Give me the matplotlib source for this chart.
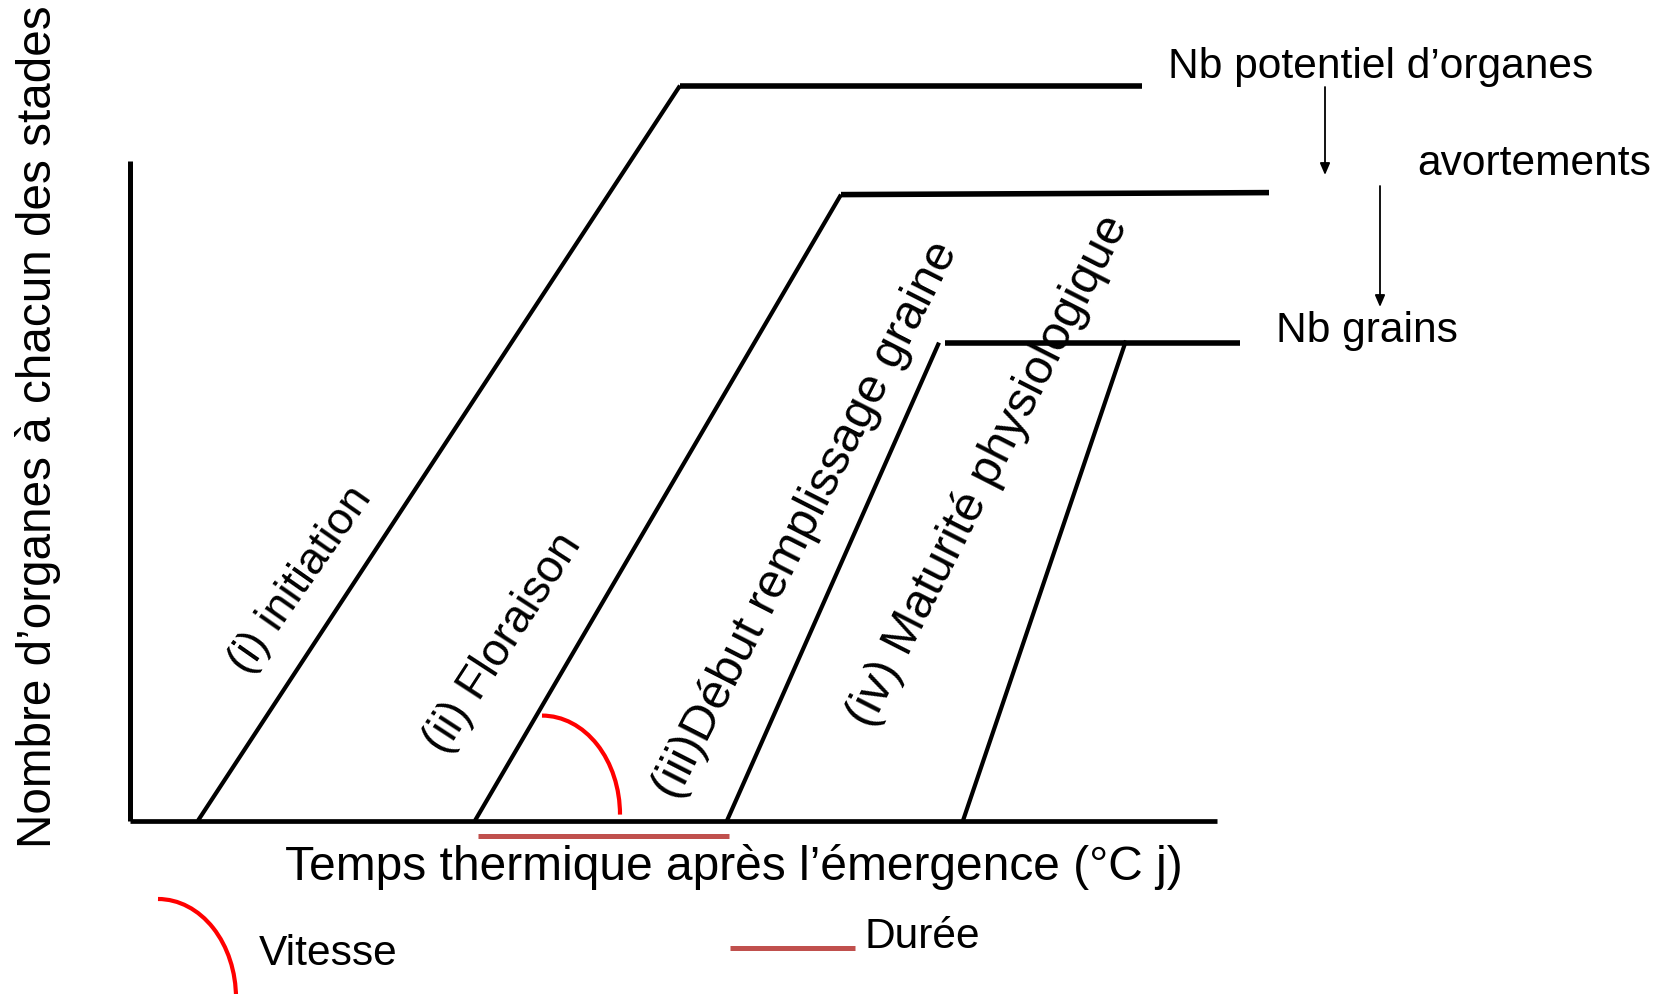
import matplotlib
matplotlib.use("Agg")
import matplotlib.pyplot as plt
from matplotlib.patches import Arc

plt.rcParams['font.family'] = ['Liberation Sans', 'DejaVu Sans']

# ---- data (thermal time on x, number of organs on y; arbitrary units) ----
stage_labels = ["(i) initiation", "(ii) Floraison",
                "(iii)Début remplissage graine", "(iv) Maturité physiologique"]
stage_base_tt = [68, 345, 597, 833]        # thermal time where each stage line starts
stage_top_tt = [550, 711, 809, 996]        # thermal time where each stage reaches its plateau
stage_top_n = [735, 626, 478, 480]         # number of organs at plateau
plateau_end_tt = [1012, 1139, 1110]        # end of plateaus (i), (ii), (iii)
plateau_end_n = [735, 628, 478]
plateau_start_tt = [550, 711, 815]

label_x = [171, 373, 676, 858]
label_y = [240, 177, 301, 350]
label_angle = [55, 57, 63, 63]
label_size = [32.5, 33, 35, 35]

axis_x_max = 1087
axis_y_max = 660

duree_tt = [348, 599]          # duration between (ii) and (iii)
vitesse_center = (412, 6)

fig = plt.figure(figsize=(16.71, 9.94), dpi=100)
ax = fig.add_axes([0, 0, 1, 1])
ax.set_xlim(-130, 1541)
ax.set_ylim(-173.4, 820.6)
ax.axis('off')

# axes of the diagram
ax.plot([0, 0], [0, axis_y_max], color='black', lw=3.6, solid_capstyle='butt')
ax.plot([0, axis_x_max], [0, 0], color='black', lw=3.4, solid_capstyle='butt')

# stage lines
for i in range(4):
    ax.plot([stage_base_tt[i], stage_top_tt[i]], [0, stage_top_n[i]],
            color='black', lw=3.0, solid_capstyle='butt')
for i in range(3):
    ax.plot([plateau_start_tt[i], plateau_end_tt[i]],
            [stage_top_n[i], plateau_end_n[i]],
            color='black', lw=4.0, solid_capstyle='butt')

# rotated stage labels
for i in range(4):
    ax.text(label_x[i], label_y[i], stage_labels[i], rotation=label_angle[i],
            rotation_mode='anchor', ha='center', va='center',
            fontsize=label_size[i], color='black')

# right side annotations
ax.text(1038, 742.6, "Nb potentiel d\u2019organes", fontsize=30.6, ha='left', va='baseline')
ax.text(1287, 645.6, "avortements", fontsize=30.6, ha='left', va='baseline')
ax.text(1146, 478.6, "Nb grains", fontsize=30.6, ha='left', va='baseline')
ax.annotate("", xy=(1195, 645.6), xytext=(1195, 733.6),
            arrowprops=dict(arrowstyle='-|>,head_length=0.7,head_width=0.3',
                            color='black', lw=1.3, shrinkA=0, shrinkB=0))
ax.annotate("", xy=(1250, 513.6), xytext=(1250, 634.6),
            arrowprops=dict(arrowstyle='-|>,head_length=0.7,head_width=0.3',
                            color='black', lw=1.3, shrinkA=0, shrinkB=0))

# axis labels
ax.text(604, -59.4, "Temps thermique après l\u2019émergence (°C j)", fontsize=34.5,
        ha='center', va='baseline')
ax.text(-79, 394, "Nombre d\u2019organes à chacun des stades", fontsize=34.3,
        rotation=90, rotation_mode='anchor', ha='center', va='baseline')

# vitesse arc and duree line
ax.add_patch(Arc(vitesse_center, 156, 198, theta1=0, theta2=90,
                 color='#FF0000', lw=3.0))
ax.plot(duree_tt, [-15, -15], color='#C0504D', lw=3.6, solid_capstyle='butt')

# legend
ax.add_patch(Arc((28, -177.4), 156, 198, theta1=0, theta2=90,
                 color='#FF0000', lw=3.0, clip_on=False))
ax.text(129, -144.4, "Vitesse", fontsize=30.6, ha='left', va='baseline')
ax.plot([600, 725], [-127, -127], color='#C0504D', lw=3.6, solid_capstyle='butt')
ax.text(735, -127.4, "Durée", fontsize=30.6, ha='left', va='baseline')

fig.savefig("out.png", dpi=100, facecolor='white')
